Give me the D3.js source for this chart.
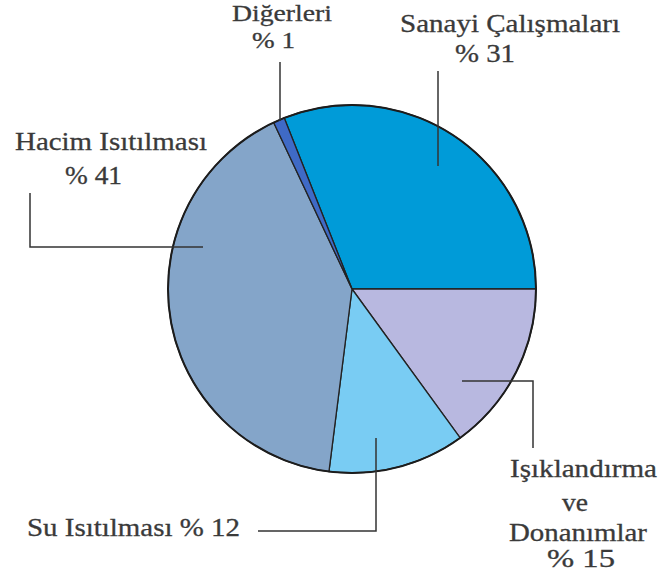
<!DOCTYPE html>
<html>
<head>
<meta charset="utf-8">
<script src="https://cdn.jsdelivr.net/npm/d3@7"></script>
<style>
  body { margin: 0; background: #fff; }
  svg { display: block; }
</style>
</head>
<body>
<div id="chart"></div>
<script>
// slices, clockwise from the Sanayi slice
const categories = ["Sanayi Çalışmaları", "Işıklandırma ve Donanımlar", "Su Isıtılması", "Hacim Isıtılması", "Diğerleri"];
const shares = [31, 15, 12, 41, 1];
const colors = ["#009bd8", "#b8b8e0", "#79ccf3", "#84a5c9", "#3f6ac6"];

// label lines for each slice (same order)
const labelLines = [
  ["Sanayi Çalışmaları", "% 31"],
  ["Işıklandırma", "ve", "Donanımlar", "%  15"],
  ["Su Isıtılması % 12"],
  ["Hacim Isıtılması", "% 41"],
  ["Diğerleri", "% 1"]
];

let width = 662, height = 581;
let cx = 352, cy = 289, radius = 184;

// text placement: [x, baseline, width, font size] per line
const labelBoxes = [
  [[400, 32, 220, 25], [455, 62, 60, 25]],
  [[510, 477, 147, 25], [562, 511, 26, 25], [509, 541, 138, 25], [547, 567, 68, 25]],
  [[27, 536, 213, 25]],
  [[15, 150, 192, 25], [65, 184, 57, 25]],
  [[232, 21, 100, 23], [252, 48, 43, 23]]
];

// leader polylines per slice
const leaders = [
  [[438, 71], [438, 166]],
  [[462, 381], [533, 381], [533, 448]],
  [[376, 438], [376, 531], [258, 531]],
  [[30, 193], [30, 247], [203, 247]],
  [[280, 62], [280, 121]]
];

let svg = d3.select("#chart")
  .append("svg")
    .attr("width", width)
    .attr("height", height);

let data = categories.map((c, i) => ({ name: c, value: shares[i], color: colors[i] }));

// Sanayi ends exactly at 3 o'clock
let start = Math.PI / 2 - 2 * Math.PI * shares[0] / d3.sum(shares);
let pie = d3.pie()
  .sort(null)
  .value(d => d.value)
  .startAngle(start)
  .endAngle(start + 2 * Math.PI);

let arc = d3.arc().innerRadius(0).outerRadius(radius);

let g = svg.append("g")
  .attr("transform", "translate(" + cx + "," + cy + ")");

g.selectAll("path")
  .data(pie(data))
  .enter()
  .append("path")
    .attr("d", arc)
    .style("fill", d => d.data.color)
    .style("stroke", "#222")
    .style("stroke-width", 1.3)
    .style("stroke-linejoin", "round");

// darker outer rim
g.append("circle")
  .attr("r", radius)
  .style("fill", "none")
  .style("stroke", "#1c1c1c")
  .style("stroke-width", 2);

// leader lines
let line = d3.line();
svg.append("g")
  .selectAll("path")
  .data(leaders)
  .enter()
  .append("path")
    .attr("d", d => line(d))
    .style("fill", "none")
    .style("stroke", "#333")
    .style("stroke-width", 1.5);

// labels
labelLines.forEach((lines, i) => {
  lines.forEach((txt, j) => {
    let b = labelBoxes[i][j];
    svg.append("text")
      .attr("x", b[0])
      .attr("y", b[1])
      .attr("textLength", b[2])
      .attr("lengthAdjust", "spacingAndGlyphs")
      .attr("font-family", "'Liberation Serif', 'Times New Roman', serif")
      .attr("font-size", b[3])
      .style("fill", "#3a3a3a")
      .style("stroke", "#3a3a3a")
      .style("stroke-width", 0.3)
      .text(txt);
  });
});
</script>
</body>
</html>
